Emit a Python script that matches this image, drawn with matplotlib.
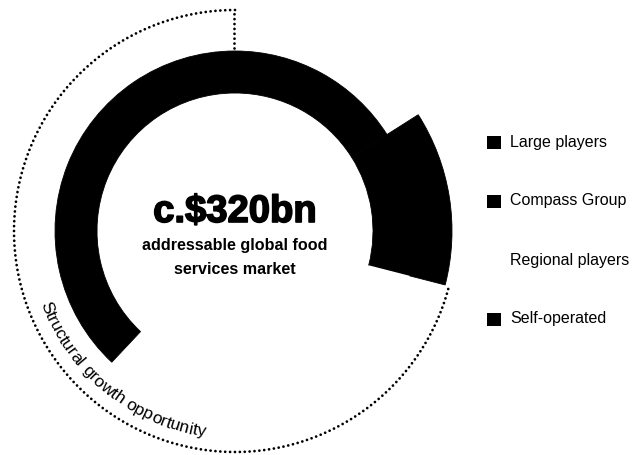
import numpy as np
import matplotlib
matplotlib.use("Agg")
import matplotlib.pyplot as plt
from matplotlib.patches import Rectangle
import matplotlib.patheffects as pe
from matplotlib.font_manager import FontProperties, findfont, get_font

# ---- data ----
segments = ["Large players", "Compass Group", "Regional players", "Self-operated"]
shares = [16, 13, 33, 38]            # % of addressable market
seg_colors = ["black", "black", "white", "black"]
headline = "c.$320bn"
sublines = ["addressable global food", "services market"]
arc_label = "Structural growth opportunity"
growth_segments = ["Regional players", "Self-operated"]

W, H = 635, 455
fig = plt.figure(figsize=(W / 100, H / 100), dpi=100)
ax = fig.add_axes([0, 0, 1, 1])

cx, cy = 235, H - 231
r_out, r_in = 180, 138
r_compass = 217
r_dot = 221

wedges, _ = ax.pie(shares, startangle=90, counterclock=False, radius=r_out,
                   center=(cx, cy), colors=seg_colors,
                   wedgeprops=dict(width=r_out - r_in))
for w, c, name in zip(wedges, seg_colors, segments):
    w.set_edgecolor(c)
    w.set_linewidth(0.6 if c == "black" else 0)
    if name == "Compass Group":
        w.set_radius(r_compass)
        w.set_width(r_compass - r_in)

ax.set_xlim(0, W)
ax.set_ylim(0, H)
ax.set_aspect("auto")
ax.axis("off")

# dotted bracket: growth segments
g_start = 90 - 360 * sum(s for n, s in zip(segments, shares) if n not in growth_segments) / 100
theta = np.radians(np.linspace(90, g_start + 360, 600))
dot_kw = dict(color="black", lw=2.0, linestyle=(0, (0.01, 1.75)), dash_capstyle="round")
ax.plot(cx + r_dot * np.cos(theta), cy + r_dot * np.sin(theta), **dot_kw)
ax.plot([cx - 1, cx - 1], [cy + r_out + 3, cy + r_dot], **dot_kw)

# centre text
ax.text(cx, H - 222, headline, ha="center", va="baseline",
        fontsize=27.5, fontweight="bold", family="Liberation Sans",
        path_effects=[pe.withStroke(linewidth=1.2, foreground="black")])
for k, line in enumerate(sublines):
    ax.text(cx, H - (250 + 24 * k), line, ha="center", va="baseline",
            fontsize=11.6, fontweight="bold", family="Liberation Sans")

# curved text
fsz = 12.5
prop = FontProperties(family="Liberation Sans", size=fsz)
font = get_font(findfont(prop))
font.set_size(fsz, 100)
adv = np.array([font.load_char(ord(ch)).linearHoriAdvance / 65536 for ch in arc_label])
Rb = 208
total = adv.sum()
mid = np.radians(231)
start = mid - total / Rb / 2
pos = np.cumsum(adv) - adv / 2
for ch, p in zip(arc_label, pos):
    t = start + p / Rb
    ax.text(cx + Rb * np.cos(t), cy + Rb * np.sin(t), ch,
            rotation=np.degrees(t) + 90, rotation_mode="anchor",
            ha="center", va="baseline", fontproperties=prop)

# legend
for i, (name, c) in enumerate(zip(segments, seg_colors)):
    y = H - (142 + i * 59)
    ax.add_patch(Rectangle((487, y - 6.5), 13.5, 13, facecolor=c, edgecolor="none"))
    ax.text(510, y, name, ha="left", va="center", fontsize=11.5, family="Liberation Sans")

fig.savefig("out.png", dpi=100, facecolor="white")
